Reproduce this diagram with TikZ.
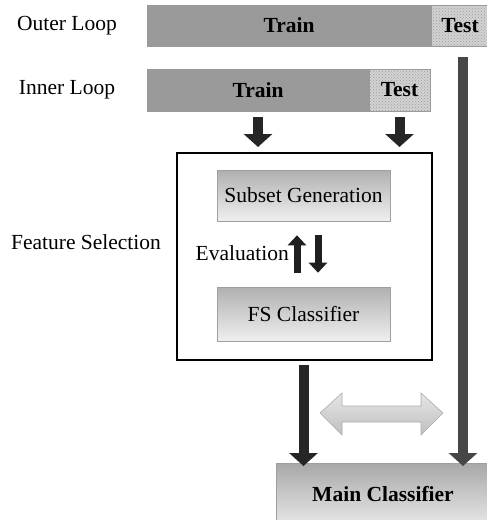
\documentclass[tikz,border=0pt]{standalone}
\usepackage{fontspec}
\setmainfont{Liberation Serif}
\usetikzlibrary{arrows.meta,patterns,calc}
\definecolor{bargray}{HTML}{9A9A9A}
\definecolor{testgray}{HTML}{D2D2D2}
\tikzset{
  every node/.style={font=\fontsize{21.5}{25}\selectfont, inner sep=0pt},
  boldtext/.style={font=\fontsize{21.5}{25}\selectfont\bfseries},
  bar/.style={draw=gray!80, fill=bargray, line width=0.6pt},
  testbar/.style={draw=gray!80, fill=testgray, line width=0.6pt},
  dots/.style={pattern=crosshatch dots, pattern color=gray!75},
  gradbox/.style={draw=gray!75, line width=0.6pt, top color=gray!62, bottom color=gray!12},
  mainbox/.style={draw=gray!75, line width=0.6pt, top color=gray!68, bottom color=gray!18},
  bigarrow/.style={line width=10pt, -{Triangle[width=28pt,length=13pt]}, draw=black!85},
  longarrow/.style={line width=10pt, -{Triangle[width=28pt,length=13pt]}, draw=black!72},
  smallarrow/.style={line width=7pt, -{Triangle[width=18pt,length=10pt]}, draw=black!88},
  dblarrow/.style={draw=gray!65, line width=0.6pt, top color=gray!20, bottom color=gray!50},
}
\begin{document}
\begin{tikzpicture}[x=1pt,y=-1pt]
\useasboundingbox (0,0) rectangle (487,520);
% outer loop
\node[bar, boldtext, minimum width=284pt, minimum height=41pt] (otrain) at (289,25.5) {Train};
\path[testbar] (431,5) rectangle (495,46);
\path[dots] (431,5) rectangle (495,46);
\node[boldtext, minimum width=64pt, minimum height=41pt] (otest) at (460,25.5) {Test};
\node (olabel) at (67,25.5) {Outer Loop};
% inner loop
\node[bar, boldtext, minimum width=222pt, minimum height=42pt] (itrain) at (258,90) {Train};
\path[testbar] (369,69) rectangle (430,111);
\path[dots] (369,69) rectangle (430,111);
\node[boldtext, minimum width=61pt, minimum height=42pt] (itest) at (399.5,90) {Test};
\node (ilabel) at (67,90) {Inner Loop};
% feature selection box
\node[draw=black, line width=2pt, minimum width=255pt, minimum height=207pt] (fs) at (304.5,256.5) {};
\node (fslabel) at (86,242) {Feature Selection};
\node[gradbox, minimum width=173pt, minimum height=51pt] (sub) at (303.5,195.5) {Subset Generation};
\node[gradbox, minimum width=173pt, minimum height=54pt] (fsc) at (303.5,314) {FS Classifier};
\node[anchor=east] (eval) at (289,253) {Evaluation};
% arrows into FS box
\draw[bigarrow] ([yshift=-6pt]itrain.south) -- ([yshift=5pt]itrain.south |- fs.north);
\draw[bigarrow] ([yshift=-6pt]itest.south) -- ([yshift=5pt]itest.south |- fs.north);
% evaluation arrows
\coordinate (upA) at (297,273);
\coordinate (dnA) at (318,235);
\draw[smallarrow, shorten >=14pt] (upA) -- (upA |- sub.south);
\draw[smallarrow, shorten >=14pt] (dnA) -- (dnA |- fsc.north);
% main classifier
\node[mainbox, minimum width=214pt, minimum height=62pt, anchor=north west] (mc) at (276,463) {};
\node[boldtext] (mctext) at (383,494) {Main Classifier};
% arrows to main classifier
\coordinate (lbot) at (303.5,365);
\draw[bigarrow] (lbot) -- ([yshift=-3pt]lbot |- mc.north);
\coordinate (rtop) at (463,57);
\draw[longarrow] (rtop) -- ([yshift=-3pt]rtop |- mc.north);
% double arrow
\path[dblarrow] (320,413) -- (342,393) -- (342,406) -- (421,406) -- (421,393) -- (443,413)
  -- (421,435) -- (421,422) -- (342,422) -- (342,435) -- cycle;
\end{tikzpicture}
\end{document}
